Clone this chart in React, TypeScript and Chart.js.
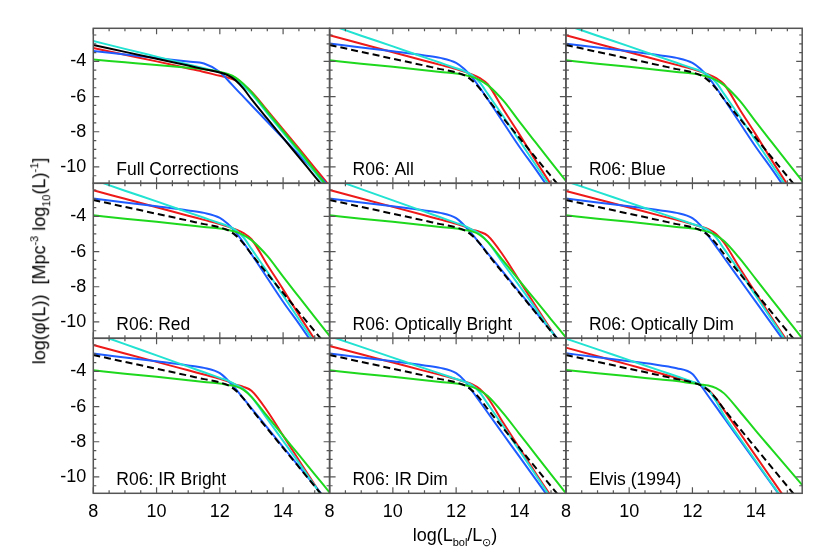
import React, { useEffect, useRef } from "react";
import { Chart, registerables } from "chart.js";

Chart.register(...registerables);

// ---------- DATA ----------
const lumGrid = [8, 9, 10, 11, 11.5, 12, 12.25, 12.5, 12.75, 13, 13.5, 14, 14.5, 15, 15.5];
const xTickValues = [8, 10, 12, 14];
const yTickValues = [-4, -6, -8, -10];

const panelTitles = [
  "Full Corrections",
  "R06: All",
  "R06: Blue",
  "R06: Red",
  "R06: Optically Bright",
  "R06: Optically Dim",
  "R06: IR Bright",
  "R06: IR Dim",
  "Elvis (1994)",
];

// reference fit (black), identical in every panel
const blackRef = [-3.07, -3.46, -3.85, -4.24, -4.44, -4.63, -4.78, -5.08, -5.55, -6.15, -7.26, -8.35, -9.44, -10.53, -11.62];

// Full corrections
const cyanFull = [-2.84, -3.29, -3.73, -4.17, -4.39, -4.62, -4.78, -5.02, -5.4, -5.85, -6.95, -8.05, -9.15, -10.3, -11.45];
const redFull = [-3.24, -3.62, -4.0, -4.4, -4.6, -4.82, -4.92, -5.08, -5.35, -5.72, -6.78, -7.86, -8.95, -10.05, -11.15];
const blueFull = [-3.41, -3.61, -3.81, -4.01, -4.12, -4.6, -5.06, -5.55, -6.02, -6.49, -7.43, -8.37, -9.31, -10.25, -11.19];
const greenFull = [-3.9, -4.05, -4.2, -4.36, -4.45, -4.6, -4.72, -4.92, -5.28, -5.75, -6.85, -7.95, -9.05, -10.2, -11.35];

// R06: All / Blue / Red
const cyanAll = [-1.92, -2.54, -3.15, -3.77, -4.08, -4.39, -4.55, -4.78, -5.2, -5.85, -7.15, -8.5, -9.85, -11.2, -12.55];
const redAll = [-2.52, -3.0, -3.48, -3.96, -4.2, -4.44, -4.58, -4.74, -4.95, -5.3, -6.75, -8.15, -9.6, -11.0, -12.4];
const blueAll = [-2.99, -3.21, -3.43, -3.66, -3.8, -4.08, -4.42, -4.9, -5.5, -6.15, -7.5, -8.85, -10.1, -11.4, -12.7];
const greenAll = [-3.94, -4.13, -4.31, -4.5, -4.6, -4.69, -4.77, -4.88, -5.06, -5.35, -6.25, -7.43, -8.58, -9.72, -10.86];

// R06: Optically Bright / IR Bright
const cyanBright = [-1.81, -2.45, -3.09, -3.73, -4.05, -4.37, -4.53, -4.75, -5.0, -5.45, -6.7, -7.95, -9.2, -10.5, -11.75];
const redBright = [-2.5, -2.98, -3.46, -3.94, -4.18, -4.42, -4.57, -4.75, -4.88, -5.1, -6.25, -7.65, -9.05, -10.45, -11.85];
const blueBright = [-2.99, -3.21, -3.43, -3.66, -3.8, -4.1, -4.5, -5.0, -5.55, -6.1, -7.2, -8.3, -9.4, -10.5, -11.6];
const greenBright = [-3.94, -4.13, -4.31, -4.5, -4.6, -4.69, -4.77, -4.85, -5.05, -5.45, -6.55, -7.65, -8.75, -9.85, -10.95];

// R06: Optically Dim / IR Dim
const cyanDim = [-2.0, -2.61, -3.22, -3.83, -4.13, -4.43, -4.58, -4.78, -5.2, -5.85, -7.15, -8.5, -9.85, -11.2, -12.55];
const redDim = [-2.56, -3.03, -3.5, -3.97, -4.2, -4.44, -4.58, -4.72, -5.0, -5.5, -6.95, -8.35, -9.75, -11.1, -12.45];
const blueDim = [-2.99, -3.21, -3.43, -3.66, -3.8, -4.1, -4.5, -5.1, -5.72, -6.35, -7.6, -8.85, -10.1, -11.35, -12.6];
const greenDim = [-3.94, -4.13, -4.31, -4.5, -4.6, -4.69, -4.77, -4.88, -5.08, -5.4, -6.4, -7.55, -8.7, -9.85, -11.0];

// Elvis (1994)
const cyanElvis = [-2.14, -2.75, -3.36, -3.97, -4.28, -4.58, -4.74, -5.05, -5.7, -6.5, -7.8, -9.08, -10.36, -11.64, -12.92];
const redElvis = [-2.65, -3.14, -3.63, -4.12, -4.37, -4.61, -4.75, -5.05, -5.55, -6.2, -7.5, -8.8, -10.1, -11.4, -12.7];
const blueElvis = [-2.97, -3.2, -3.42, -3.66, -3.82, -4.15, -4.75, -5.4, -6.02, -6.65, -7.9, -9.15, -10.4, -11.65, -12.9];
const greenElvis = [-3.92, -4.1, -4.28, -4.46, -4.55, -4.68, -4.74, -4.8, -4.95, -5.25, -6.28, -7.37, -8.42, -9.47, -10.52];

const panelCurves = [
  { cyan: cyanFull, red: redFull, blue: blueFull, green: greenFull, dashed: false },
  { cyan: cyanAll, red: redAll, blue: blueAll, green: greenAll, dashed: true },
  { cyan: cyanAll, red: redAll, blue: blueAll, green: greenAll, dashed: true },
  { cyan: cyanAll, red: redAll, blue: blueAll, green: greenAll, dashed: true },
  { cyan: cyanBright, red: redBright, blue: blueBright, green: greenBright, dashed: true },
  { cyan: cyanDim, red: redDim, blue: blueDim, green: greenDim, dashed: true },
  { cyan: cyanBright, red: redBright, blue: blueBright, green: greenBright, dashed: true },
  { cyan: cyanDim, red: redDim, blue: blueDim, green: greenDim, dashed: true },
  { cyan: cyanElvis, red: redElvis, blue: blueElvis, green: greenElvis, dashed: true },
];

// ---------- STYLE / LAYOUT ----------
const X_MIN = 8;
const X_MAX = 15.47;
const Y_MIN = -10.93;
const Y_MAX = -2.12;

const W = 830;
const H = 553;
const PLOT_LEFT = 93.3;
const PLOT_TOP = 28.3;
const PANEL_W = 236.3;
const PANEL_H = 155;
const Y_AXIS_W = 60; // space reserved for y tick labels
const X_AXIS_H = 36; // space reserved for x tick labels

const FONT = '"Liberation Sans", Arial, Helvetica, sans-serif';
const FRAME_COLOR = "#555555";
const COLORS = {
  cyan: "#22e2d2",
  red: "#ee1a1a",
  blue: "#1e5cff",
  green: "#1ed81e",
  black: "#000000",
};

const toPoints = (ys: number[]) => lumGrid.map((x, i) => ({ x, y: ys[i] }));

const framePlugin = {
  id: "idlFrame",
  afterDraw(chart: any) {
    const { ctx, chartArea, scales } = chart;
    const { left, right, top, bottom } = chartArea;
    const xs = scales.x;
    const ys = scales.y;
    ctx.save();
    ctx.strokeStyle = FRAME_COLOR;
    ctx.lineWidth = 1.5;
    ctx.strokeRect(left, top, right - left, bottom - top);
    ctx.lineWidth = 1.2;
    ctx.beginPath();
    for (let v = X_MIN; v <= X_MAX + 1e-6; v += 0.5) {
      const px = xs.getPixelForValue(v);
      const major = Math.abs(v % 2) < 1e-6;
      const len = major ? 6 : 3;
      ctx.moveTo(px, bottom);
      ctx.lineTo(px, bottom - len);
      ctx.moveTo(px, top);
      ctx.lineTo(px, top + len);
    }
    for (let v = Math.ceil(Y_MIN * 2) / 2; v <= Y_MAX + 1e-6; v += 0.5) {
      const py = ys.getPixelForValue(v);
      const major = Math.abs(v % 2) < 1e-6;
      const len = major ? 6 : 3;
      ctx.moveTo(left, py);
      ctx.lineTo(left + len, py);
      ctx.moveTo(right, py);
      ctx.lineTo(right - len, py);
    }
    ctx.stroke();
    // panel label
    const label = chart.options.plugins.idlFrame.label;
    ctx.fillStyle = "#000";
    ctx.font = `17.5px ${FONT}`;
    ctx.textAlign = "left";
    ctx.textBaseline = "alphabetic";
    ctx.fillText(label, left + 23, bottom - 8);
    ctx.restore();
  },
};

function Panel({ index }: { index: number }) {
  const ref = useRef<HTMLCanvasElement | null>(null);
  useEffect(() => {
    const row = Math.floor(index / 3);
    const col = index % 3;
    const left = PLOT_LEFT + col * PANEL_W;
    const top = PLOT_TOP + row * PANEL_H;
    const c = panelCurves[index];
    const line = (data: number[], color: string, dash: number[] = []) => ({
      data: toPoints(data),
      borderColor: color,
      borderWidth: 2,
      borderDash: dash,
      pointRadius: 0,
      fill: false,
      cubicInterpolationMode: "monotone" as const,
    });
    const chart = new Chart(ref.current as HTMLCanvasElement, {
      type: "line",
      data: {
        datasets: [
          line(blackRef, COLORS.black, c.dashed ? [7, 4] : []),
          line(c.green, COLORS.green),
          line(c.cyan, COLORS.cyan),
          line(c.blue, COLORS.blue),
          line(c.red, COLORS.red),
        ] as any,
      },
      options: {
        animation: false,
        responsive: false,
        maintainAspectRatio: false,
        events: [],
        layout: {
          padding: {
            left: left - Y_AXIS_W,
            top,
            right: W - left - PANEL_W,
            bottom: H - top - PANEL_H - X_AXIS_H,
          },
        },
        plugins: {
          legend: { display: false },
          tooltip: { enabled: false },
          idlFrame: { label: panelTitles[index] },
        } as any,
        scales: {
          x: {
            type: "linear",
            min: X_MIN,
            max: X_MAX,
            grid: { display: false, drawTicks: false },
            border: { display: false },
            afterBuildTicks: (s: any) => {
              s.ticks = xTickValues.map((v) => ({ value: v }));
            },
            afterFit: (s: any) => {
              s.height = X_AXIS_H;
              s.paddingLeft = 0;
              s.paddingRight = 0;
            },
            ticks: {
              display: row === 2,
              autoSkip: false,
              maxRotation: 0,
              padding: 8,
              color: "#000",
              font: { family: FONT, size: 18 },
              callback: (v: any) => String(v),
            },
          },
          y: {
            type: "linear",
            min: Y_MIN,
            max: Y_MAX,
            grid: { display: false, drawTicks: false },
            border: { display: false },
            afterBuildTicks: (s: any) => {
              s.ticks = yTickValues.map((v) => ({ value: v }));
            },
            afterFit: (s: any) => {
              s.width = Y_AXIS_W;
              s.paddingTop = 0;
              s.paddingBottom = 0;
            },
            ticks: {
              display: col === 0,
              autoSkip: false,
              padding: 7,
              color: "#000",
              font: { family: FONT, size: 18 },
              callback: (v: any) => String(v),
            },
          },
        },
      } as any,
      plugins: [framePlugin],
    });
    return () => chart.destroy();
  }, [index]);
  return (
    <canvas
      ref={ref}
      width={W}
      height={H}
      style={{ position: "absolute", left: 0, top: 0, width: W, height: H }}
    />
  );
}

export default function App() {
  const smallStyle = { fontSize: "11px" };
  return (
    <div
      style={{
        position: "fixed",
        left: 0,
        top: 0,
        width: W,
        height: H,
        background: "#fff",
        overflow: "hidden",
        fontFamily: FONT,
        color: "#000",
      }}
    >
      {panelTitles.map((_, i) => (
        <Panel key={i} index={i} />
      ))}
      <div
        style={{
          position: "absolute",
          left: 40,
          top: 261,
          transform: "translate(-50%, -50%) rotate(-90deg)",
          whiteSpace: "nowrap",
          fontSize: "18px",
          lineHeight: "normal",
        }}
      >
        log(φ(L))&nbsp;&nbsp;[Mpc
        <sup style={smallStyle}>-3</sup> log
        <sub style={smallStyle}>10</sub>(L)
        <sup style={smallStyle}>-1</sup>]
      </div>
      <div
        style={{
          position: "absolute",
          left: 455,
          top: 525,
          transform: "translateX(-50%)",
          whiteSpace: "nowrap",
          fontSize: "18px",
          lineHeight: "normal",
        }}
      >
        log(L<sub style={smallStyle}>bol</sub>/L<sub style={smallStyle}>⊙</sub>)
      </div>
    </div>
  );
}
